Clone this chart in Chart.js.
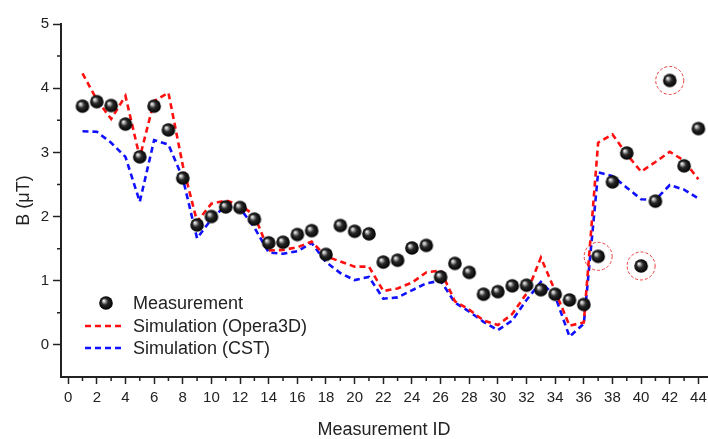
<!DOCTYPE html>
<html>
<head>
<meta charset="utf-8">
<script src="https://cdn.jsdelivr.net/npm/chart.js@4.4.1/dist/chart.umd.min.js"></script>
<style>
  html, body { margin: 0; padding: 0; background: #fff; }
  #wrap { position: relative; width: 708px; height: 439px; }
</style>
</head>
<body>
<div id="wrap"><canvas id="c" width="708" height="439"></canvas></div>
<script>
// Measurement IDs along the bottom axis
const measurementIds = [1, 2, 3, 4, 5, 6, 7, 8, 9, 10, 11, 12, 13, 14, 15, 16, 17, 18, 19, 20, 21, 22,
  23, 24, 25, 26, 27, 28, 29, 30, 31, 32, 33, 34, 35, 36, 37, 38, 39, 40, 41, 42, 43, 44];

// Measured field, µT
const measured = [3.72, 3.79, 3.73, 3.44, 2.93, 3.72, 3.35, 2.60, 1.87, 2.00, 2.15, 2.14, 1.96, 1.59,
  1.60, 1.72, 1.78, 1.41, 1.86, 1.77, 1.73, 1.29, 1.32, 1.51, 1.55, 1.06, 1.27, 1.13, 0.79, 0.83,
  0.92, 0.93, 0.86, 0.79, 0.70, 0.63, 1.38, 2.54, 2.99, 1.23, 2.24, 4.12, 2.79, 3.37];

// Opera3D simulation, µT
const opera3d = [4.23, 3.82, 3.52, 3.88, 2.92, 3.80, 3.93, 2.80, 1.92, 2.20, 2.25, 2.18, 2.02, 1.47,
  1.48, 1.52, 1.61, 1.38, 1.30, 1.22, 1.22, 0.84, 0.88, 0.97, 1.13, 1.16, 0.68, 0.55, 0.38, 0.31,
  0.48, 0.80, 1.36, 0.84, 0.30, 0.35, 3.15, 3.28, 2.97, 2.70, 2.85, 3.01, 2.87, 2.58];

// CST simulation, µT
const cst = [3.33, 3.32, 3.15, 2.93, 2.23, 3.19, 3.12, 2.60, 1.66, 1.96, 2.17, 2.13, 1.83, 1.44,
  1.42, 1.46, 1.59, 1.29, 1.12, 1.01, 1.06, 0.72, 0.74, 0.85, 0.96, 1.00, 0.66, 0.52, 0.36, 0.23,
  0.38, 0.70, 0.98, 0.76, 0.13, 0.33, 2.69, 2.63, 2.45, 2.27, 2.26, 2.49, 2.42, 2.28];

// Measurements marked as outliers
const outlierIds = [37, 40, 42];

// Axis tick labels
const xTickValues = [0, 2, 4, 6, 8, 10, 12, 14, 16, 18, 20, 22, 24, 26, 28, 30, 32, 34, 36, 38, 40, 42, 44];
const yTickValues = [0, 1, 2, 3, 4, 5];

const FONT = "'Liberation Sans', Arial, sans-serif";
const INK = '#222';

// Shaded black sphere used as the measurement marker
function makeSphere(r) {
  const size = Math.ceil(r * 2 + 2);
  const cv = document.createElement('canvas');
  cv.width = size; cv.height = size;
  const g = cv.getContext('2d');
  const c = size / 2;
  const grad = g.createRadialGradient(c - r * 0.35, c - r * 0.35, r * 0.05, c, c, r);
  grad.addColorStop(0, '#f6f6f6');
  grad.addColorStop(0.2, '#a0a0a0');
  grad.addColorStop(0.45, '#2a2a2a');
  grad.addColorStop(1, '#000');
  g.fillStyle = grad;
  g.beginPath(); g.arc(c, c, r, 0, Math.PI * 2); g.fill();
  return cv;
}
const sphere = makeSphere(6.8);

const toPoints = arr => measurementIds.map((id, i) => ({ x: id, y: arr[i] }));

// Small unlabeled ticks halfway between the labeled ones
const minorTicks = {
  id: 'minorTicks',
  afterDraw(chart) {
    const { ctx, chartArea, scales } = chart;
    ctx.save();
    ctx.strokeStyle = INK;
    ctx.lineWidth = 1.5;
    ctx.beginPath();
    for (let i = 0; i < xTickValues.length - 1; i++) {
      const px = scales.x.getPixelForValue((xTickValues[i] + xTickValues[i + 1]) / 2);
      ctx.moveTo(px, chartArea.bottom);
      ctx.lineTo(px, chartArea.bottom + 4);
    }
    for (let i = 0; i < yTickValues.length - 1; i++) {
      const py = scales.y.getPixelForValue((yTickValues[i] + yTickValues[i + 1]) / 2);
      ctx.moveTo(chartArea.left, py);
      ctx.lineTo(chartArea.left - 4, py);
    }
    ctx.stroke();
    ctx.restore();
  }
};

// Dashed rings around the outlier measurements
const outlierRings = {
  id: 'outlierRings',
  afterDatasetsDraw(chart) {
    const { ctx, scales } = chart;
    ctx.save();
    ctx.strokeStyle = 'rgba(232, 40, 40, 0.9)';
    ctx.lineWidth = 1;
    ctx.setLineDash([3, 2]);
    outlierIds.forEach(id => {
      const i = measurementIds.indexOf(id);
      const px = scales.x.getPixelForValue(id);
      const py = scales.y.getPixelForValue(measured[i]);
      ctx.beginPath();
      ctx.arc(px, py, 14, 0, Math.PI * 2);
      ctx.stroke();
    });
    ctx.restore();
  }
};

// Legend inside the plot, lower left
const insideLegend = {
  id: 'insideLegend',
  afterDraw(chart) {
    const { ctx } = chart;
    const rows = [303, 326, 348];
    ctx.save();
    ctx.font = '18px ' + FONT;
    ctx.fillStyle = INK;
    ctx.textBaseline = 'middle';
    ctx.textAlign = 'left';
    chart.data.datasets.forEach((ds, k) => {
      const y = rows[k];
      if (ds.showLine) {
        ctx.save();
        ctx.strokeStyle = ds.borderColor;
        ctx.lineWidth = ds.borderWidth;
        ctx.setLineDash(ds.borderDash);
        ctx.beginPath();
        ctx.moveTo(85, y);
        ctx.lineTo(123, y);
        ctx.stroke();
        ctx.restore();
      } else {
        ctx.drawImage(sphere, 106 - sphere.width / 2, y - sphere.height / 2);
      }
      ctx.fillText(ds.label, 133, y + 1);
    });
    ctx.restore();
  }
};

// Keep the plot edges fixed: no extra room reserved for edge tick labels
const noEdgePadding = s => {
  s.paddingLeft = 0; s.paddingRight = 0; s.paddingTop = 0; s.paddingBottom = 0;
};

new Chart(document.getElementById('c'), {
  type: 'scatter',
  data: {
    datasets: [
      {
        label: 'Measurement',
        data: toPoints(measured),
        pointStyle: sphere,
        pointRadius: 6.8,
        pointHoverRadius: 6.8,
        showLine: false,
        order: 0
      },
      {
        label: 'Simulation (Opera3D)',
        data: toPoints(opera3d),
        showLine: true,
        borderColor: '#ff1010',
        borderWidth: 2.6,
        borderDash: [6, 4],
        pointRadius: 0,
        tension: 0,
        order: 1
      },
      {
        label: 'Simulation (CST)',
        data: toPoints(cst),
        showLine: true,
        borderColor: '#1010ff',
        borderWidth: 2.6,
        borderDash: [6, 4],
        pointRadius: 0,
        tension: 0,
        order: 2
      }
    ]
  },
  options: {
    responsive: false,
    animation: false,
    devicePixelRatio: 1,
    layout: { autoPadding: false, padding: { top: 24, right: 1, left: 0, bottom: 0 } },
    plugins: { legend: { display: false }, tooltip: { enabled: false } },
    scales: {
      x: {
        type: 'linear',
        min: -0.5,
        max: 44.6,
        afterBuildTicks: s => { s.ticks = xTickValues.map(v => ({ value: v })); },
        afterFit: s => { s.height = 62; noEdgePadding(s); },
        ticks: { font: { family: FONT, size: 15 }, color: INK, padding: 5, maxRotation: 0, autoSkip: false },
        grid: { drawOnChartArea: false, drawTicks: true, tickLength: 7, tickColor: INK, tickWidth: 1.5 },
        border: { display: true, color: INK, width: 2 },
        title: { display: true, text: 'Measurement ID', color: INK, font: { family: FONT, size: 18, lineHeight: 1.0 }, padding: { top: 0, bottom: 0 } }
      },
      y: {
        type: 'linear',
        min: -0.5,
        max: 5,
        afterBuildTicks: s => { s.ticks = yTickValues.map(v => ({ value: v })); },
        afterFit: s => { s.width = 61; noEdgePadding(s); },
        ticks: { font: { family: FONT, size: 15 }, color: INK, padding: 4 },
        grid: { drawOnChartArea: false, drawTicks: true, tickLength: 8, tickColor: INK, tickWidth: 1.5 },
        border: { display: true, color: INK, width: 2 },
        title: { display: true, text: 'B (\u03bcT)', color: INK, font: { family: FONT, size: 18 }, padding: { top: 13, bottom: 0 } }
      }
    }
  },
  plugins: [minorTicks, outlierRings, insideLegend]
});
</script>
</body>
</html>
